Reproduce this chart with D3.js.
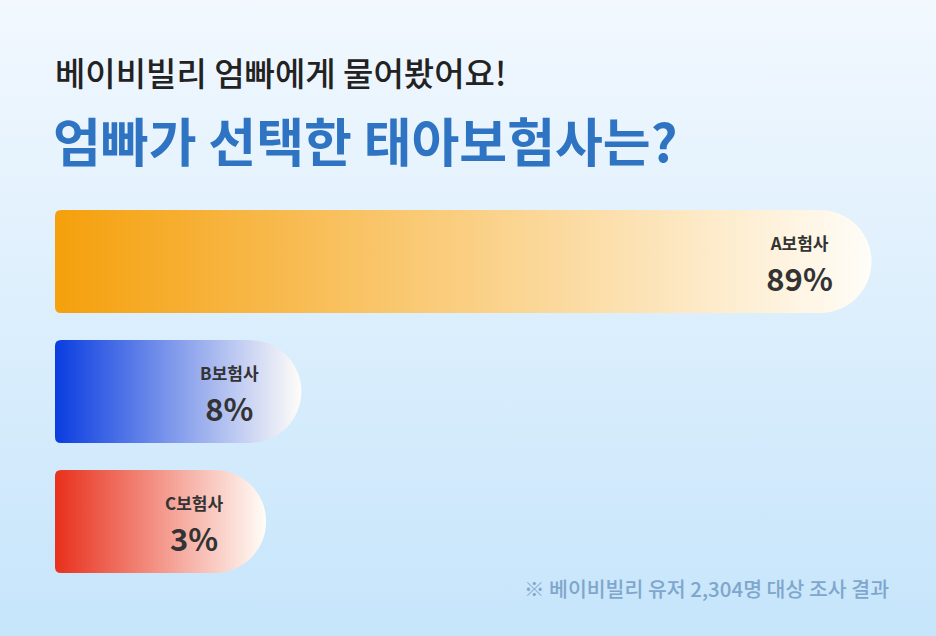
<!DOCTYPE html>
<html><head><meta charset="utf-8">
<script src="https://cdn.jsdelivr.net/npm/d3@7"></script>
<style>body{margin:0;overflow:hidden}svg{display:block}</style>
</head><body>
<div id="chart"></div>
<script>
// chart data
var categories = ["A보험사", "B보험사", "C보험사"];
var values = [89, 8, 3];
var valueLabels = ["89%", "8%", "3%"];
var colors = ["#f5a00c", "#0a3de0", "#e8301c"];

var width = 936, height = 636;
var svg = d3.select("#chart").append("svg")
    .attr("width", width).attr("height", height);
var defs = svg.append("defs");

// background
var bg = defs.append("linearGradient").attr("id", "bg")
    .attr("x1", 0).attr("y1", 0).attr("x2", 0).attr("y2", 1);
bg.append("stop").attr("offset", 0).attr("stop-color", "#f2f8fe");
bg.append("stop").attr("offset", 1).attr("stop-color", "#c6e5fb");
svg.append("rect").attr("width", width).attr("height", height).attr("fill", "url(#bg)");

// titles
svg.append("text").attr("x", 55).attr("y", 86)
    .attr("font-family", "Noto Sans CJK KR").attr("font-size", 33).attr("font-weight", 500)
    .attr("fill", "#222").text("베이비빌리 엄빠에게 물어봤어요!");
svg.append("text").attr("x", 53).attr("y", 162)
    .attr("font-family", "Noto Sans CJK KR").attr("font-size", 52).attr("font-weight", 700)
    .attr("fill", "#2f74c2").text("엄빠가 선택한 태아보험사는?");

// scales (bars have a minimum length for the label)
var x = d3.scaleLinear().domain([0, 100]).range([55 + 190, 55 + 190 + 704]);
var y = d3.scaleBand().domain(categories).range([210, 573]).paddingInner(0.208);

var g = svg.selectAll(".bar").data(categories).enter().append("g");

g.each(function(d, i) {
  var gr = defs.append("linearGradient").attr("id", "g" + i)
      .attr("x1", 0).attr("y1", 0).attr("x2", 1).attr("y2", 0);
  gr.append("stop").attr("offset", 0).attr("stop-color", colors[i]);
  gr.append("stop").attr("offset", 1).attr("stop-color", "#fffdf8");
});

g.append("path")
    .attr("fill", function(d, i) { return "url(#g" + i + ")"; })
    .attr("d", function(d, i) {
      var x0 = 55, x1 = x(values[i]), y0 = y(d), h = y.bandwidth(), r = h / 2, s = 6;
      return "M" + (x0 + s) + "," + y0 + "H" + (x1 - r) +
        "A" + r + "," + r + " 0 0 1 " + (x1 - r) + "," + (y0 + h) +
        "H" + (x0 + s) + "Q" + x0 + "," + (y0 + h) + " " + x0 + "," + (y0 + h - s) +
        "V" + (y0 + s) + "Q" + x0 + "," + y0 + " " + (x0 + s) + "," + y0 + "Z";
    });

g.append("text")
    .attr("x", function(d, i) { return x(values[i]) - 72; })
    .attr("y", function(d) { return y(d) + 40; })
    .attr("text-anchor", "middle").attr("font-family", "Noto Sans CJK KR")
    .attr("font-size", 17).attr("font-weight", 700).attr("fill", "#333")
    .text(function(d) { return d; });

g.append("text")
    .attr("x", function(d, i) { return x(values[i]) - 72; })
    .attr("y", function(d) { return y(d) + 81; })
    .attr("text-anchor", "middle").attr("font-family", "Noto Sans CJK KR")
    .attr("font-size", 31).attr("font-weight", 700).attr("fill", "#333")
    .text(function(d, i) { return valueLabels[i]; });

// footnote
svg.append("text").attr("x", 889).attr("y", 597).attr("text-anchor", "end")
    .attr("font-family", "Noto Sans CJK KR").attr("font-size", 20.5).attr("font-weight", 500)
    .attr("fill", "#7fa6cc").text("※ 베이비빌리 유저 2,304명 대상 조사 결과");
</script>
</body></html>
